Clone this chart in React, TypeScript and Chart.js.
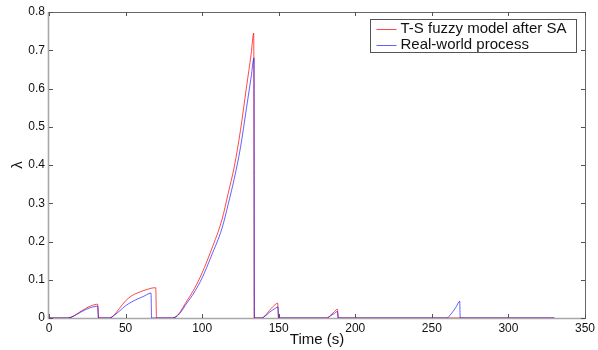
import { useEffect, useRef } from "react";
import { Chart, registerables } from "chart.js";

Chart.register(...registerables);

const seriesNames = ["T-S fuzzy model after SA", "Real-world process"];

const redTime = [0, 12, 15, 18, 21, 24, 27, 30, 31.8, 32.3, 39.5, 43, 46, 50, 54, 58, 62, 66, 68.6, 69.7, 70.2, 80, 83, 86, 89, 95, 100, 106, 113, 117, 121, 125, 129, 132, 133.7, 134.0, 138.6, 140, 142, 144, 146, 148, 149.3, 149.8, 181.4, 184, 186, 188.3, 188.8, 330];
const redValue = [0, 0, 0.003, 0.01, 0.018, 0.025, 0.031, 0.035, 0.036, 0, 0, 0.01, 0.025, 0.045, 0.058, 0.066, 0.072, 0.077, 0.079, 0.079, 0, 0, 0.004, 0.018, 0.038, 0.077, 0.118, 0.178, 0.258, 0.326, 0.396, 0.49, 0.605, 0.69, 0.745, 0, 0, 0.002, 0.01, 0.02, 0.029, 0.036, 0.039, 0, 0, 0.008, 0.015, 0.023, 0, 0];

const blueTime = [0, 12.5, 15, 18, 21, 24, 27, 30, 31.8, 32.3, 39.5, 43, 46, 50, 54, 58, 62, 65.3, 66.6, 67, 80, 83, 86, 89, 95, 100, 106, 113, 117, 121, 125, 129, 132, 133.9, 134.1, 138.6, 140, 142, 144, 146, 148, 149.5, 150, 181.4, 184, 186, 188.3, 189, 260, 262, 264, 266, 268.2, 268.5, 330];
const blueValue = [0, 0, 0.003, 0.009, 0.016, 0.022, 0.027, 0.03, 0.031, 0, 0, 0.008, 0.018, 0.032, 0.042, 0.05, 0.057, 0.064, 0.065, 0, 0, 0.003, 0.015, 0.033, 0.068, 0.105, 0.162, 0.235, 0.297, 0.365, 0.445, 0.55, 0.63, 0.68, 0, 0, 0.002, 0.008, 0.015, 0.021, 0.026, 0.029, 0, 0, 0.006, 0.011, 0.017, 0, 0, 0.008, 0.018, 0.03, 0.044, 0, 0];

const xTicks = [0, 50, 100, 150, 200, 250, 300, 350];
const xTickLabels = ["0", "50", "100", "150", "200", "250", "300", "350"];
const yTicks = [0, 0.1, 0.2, 0.3, 0.4, 0.5, 0.6, 0.7, 0.8];
const yTickLabels = ["0", "0.1", "0.2", "0.3", "0.4", "0.5", "0.6", "0.7", "0.8"];

const xTitle = "Time (s)";
const yTitle = "λ";

const FONT = "'Liberation Sans', Arial, sans-serif";
const RED = "rgba(255,0,0,0.72)";
const BLUE = "rgba(0,0,255,0.62)";

const framePlugin = {
  id: "frame",
  beforeDatasetsDraw(chart: any) {
    const { ctx, chartArea: a } = chart;
    ctx.save();
    ctx.lineWidth = 1.6;
    ctx.strokeStyle = "#a8a8a8";
    ctx.beginPath();
    ctx.moveTo(a.left - 0.5, a.top);
    ctx.lineTo(a.left - 0.5, a.bottom + 0.5);
    ctx.lineTo(a.right, a.bottom + 0.5);
    ctx.stroke();
    ctx.lineWidth = 1;
    ctx.strokeStyle = "#666";
    ctx.beginPath();
    ctx.moveTo(a.left - 0.5, a.top + 0.5);
    ctx.lineTo(a.right + 0.5, a.top + 0.5);
    ctx.lineTo(a.right + 0.5, a.bottom + 1);
    ctx.stroke();
    ctx.restore();
  },
  afterDatasetsDraw(chart: any) {
    const { ctx, chartArea: a, scales } = chart;
    ctx.save();
    ctx.lineWidth = 1;
    ctx.strokeStyle = "#555";
    const len = 4;
    ctx.beginPath();
    for (const v of xTicks) {
      const px = Math.round(scales.x.getPixelForValue(v)) + 0.5;
      ctx.moveTo(px, a.bottom);
      ctx.lineTo(px, a.bottom - len);
      ctx.moveTo(px, a.top);
      ctx.lineTo(px, a.top + len);
    }
    for (const v of yTicks) {
      const py = Math.round(scales.y.getPixelForValue(v)) + 0.5;
      ctx.moveTo(a.left, py);
      ctx.lineTo(a.left + len, py);
      ctx.moveTo(a.right, py);
      ctx.lineTo(a.right - len, py);
    }
    ctx.stroke();

    // legend box (MATLAB style, inside the axes)
    const bw = 206, bh = 33;
    const bx = Math.round(a.right - 9 - bw) + 0.5;
    const by = Math.round(a.top + 7) + 0.5;
    ctx.fillStyle = "#fff";
    ctx.fillRect(bx, by, bw, bh);
    ctx.strokeStyle = "#555";
    ctx.strokeRect(bx, by, bw, bh);
    const colors = [RED, BLUE];
    const rows = [by + 9, by + 25];
    seriesNames.forEach((name, i) => {
      ctx.strokeStyle = colors[i];
      ctx.lineWidth = 1;
      ctx.beginPath();
      ctx.moveTo(bx + 6, Math.round(rows[i]) + 0.5);
      ctx.lineTo(bx + 26, Math.round(rows[i]) + 0.5);
      ctx.stroke();
      ctx.fillStyle = "#111";
      ctx.font = `15px ${FONT}`;
      ctx.textBaseline = "middle";
      ctx.textAlign = "left";
      ctx.fillText(name, bx + 30, rows[i] + 0.5);
    });
    ctx.restore();
  },
};

export default function App() {
  const ref = useRef<HTMLCanvasElement>(null);
  useEffect(() => {
    document.body.style.margin = "0";
    const chart = new Chart(ref.current!, {
      type: "line",
      data: {
        datasets: [
          {
            label: seriesNames[0],
            data: redTime.map((t, i) => ({ x: t, y: redValue[i] })),
            borderColor: RED,
            borderWidth: 1,
            pointRadius: 0,
            cubicInterpolationMode: "monotone",
            fill: false,
            order: 1,
          },
          {
            label: seriesNames[1],
            data: blueTime.map((t, i) => ({ x: t, y: blueValue[i] })),
            borderColor: BLUE,
            borderWidth: 1,
            pointRadius: 0,
            cubicInterpolationMode: "monotone",
            fill: false,
            order: 0,
          },
        ],
      },
      options: {
        responsive: false,
        animation: false,
        devicePixelRatio: 1,
        layout: { padding: { left: 0, top: 12, right: 8, bottom: 0 } },
        plugins: { legend: { display: false }, tooltip: { enabled: false } },
        elements: { line: { borderJoinStyle: "round" } },
        scales: {
          x: {
            type: "linear",
            min: 0,
            max: 350,
            grid: { display: false, drawTicks: false },
            border: { display: false },
            afterBuildTicks: (s: any) => {
              s.ticks = xTicks.map((v) => ({ value: v }));
            },
            afterFit: (s: any) => {
              s.height = 32;
            },
            ticks: {
              autoSkip: false,
              maxRotation: 0,
              padding: 3,
              color: "#111",
              font: { family: FONT, size: 12 },
              callback: (_v: any, i: number) => xTickLabels[i],
            },
            title: {
              display: true,
              text: xTitle,
              color: "#111",
              font: { family: FONT, size: 15 },
              padding: { top: 0, bottom: 1 },
            },
          },
          y: {
            type: "linear",
            min: 0,
            max: 0.8,
            grid: { display: false, drawTicks: false },
            border: { display: false },
            afterBuildTicks: (s: any) => {
              s.ticks = yTicks.map((v) => ({ value: v }));
            },
            afterFit: (s: any) => {
              s.width = 49;
            },
            ticks: {
              autoSkip: false,
              padding: 4,
              color: "#111",
              font: { family: FONT, size: 12 },
              callback: (_v: any, i: number) => yTickLabels[i],
            },
            title: {
              display: true,
              text: yTitle,
              color: "#111",
              font: { family: FONT, size: 15 },
              padding: { top: 9, bottom: 0 },
            },
          },
        },
      },
      plugins: [framePlugin],
    });
    return () => chart.destroy();
  }, []);
  return (
    <div style={{ width: 598, height: 350, background: "#fff" }}>
      <canvas ref={ref} width={598} height={350} />
    </div>
  );
}
